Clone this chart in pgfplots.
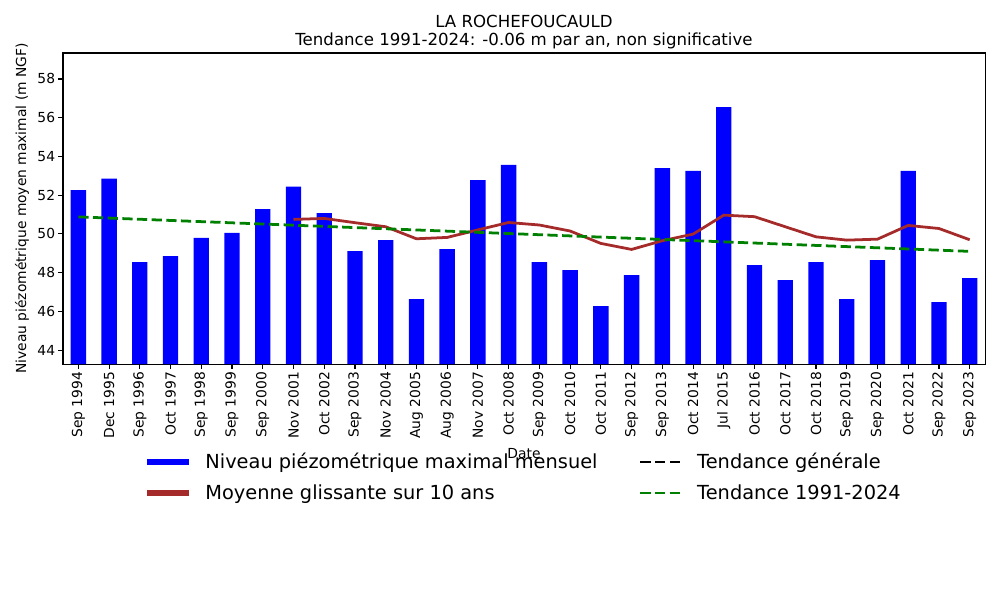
\documentclass[border=0pt]{standalone}
\usepackage{fontspec}
\setmainfont{DejaVu Sans}
\usepackage{pgfplots}
\pgfplotsset{compat=1.18}
\usetikzlibrary{calc}
\definecolor{mplgreen}{RGB}{0,128,0}
\definecolor{mplbrown}{RGB}{165,42,42}
\begin{document}
\begin{tikzpicture}
\begin{axis}[
    name=ax,
    scale only axis,
    width=666.3pt, height=224.8pt,
    xmin=-0.5, xmax=29.5,
    ymin=43.28, ymax=59.34,
    xtick={0,...,29},
    xticklabels={Sep 1994,Dec 1995,Sep 1996,Oct 1997,Sep 1998,Sep 1999,Sep 2000,Nov 2001,Oct 2002,Sep 2003,Nov 2004,Aug 2005,Aug 2006,Nov 2007,Oct 2008,Sep 2009,Oct 2010,Oct 2011,Sep 2012,Sep 2013,Oct 2014,Jul 2015,Oct 2016,Oct 2017,Oct 2018,Sep 2019,Sep 2020,Oct 2021,Sep 2022,Sep 2023},
    ytick={44,46,...,58},
    tick pos=left,
    tick align=outside,
    major tick length=3.5pt,
    every tick/.style={black, line width=0.8pt},
    axis line style={line width=0.8pt},
    /pgf/number format/assume math mode=true,
    ticklabel style={font=\fontsize{10}{12}\selectfont},
    xticklabel style={rotate=90, anchor=east, inner sep=2pt},
    yticklabel style={inner sep=2pt},
    title={LA ROCHEFOUCAULD\\Tendance 1991-2024: -0.06 m par an, non significative},
    title style={align=center, font=\fontsize{12}{12.5}\selectfont, inner sep=0pt, yshift=-3pt},
    xlabel={Date},
    xlabel style={at={(axis description cs:0.5,-0.286)}, anchor=center, font=\fontsize{10}{12}\selectfont},
    ylabel={Niveau piézométrique moyen maximal (m NGF)},
    ylabel style={at={(axis description cs:-0.0445,0.5)}, anchor=center, font=\fontsize{10}{12}\selectfont},
    legend columns=2,
    legend cell align=left,
    legend style={at={(0.5,-0.268)}, anchor=north, draw=none, fill=none,
      font=\fontsize{14}{17}\selectfont, row sep=6pt,
      /tikz/every odd column/.append style={column sep=8pt},
      /tikz/every even column/.append style={column sep=28pt}},
    legend image code/.code={\draw[#1] (0pt,0pt) -- (30pt,0pt);},
]
\addlegendimage{blue, line width=4pt}
\addlegendentry{Niveau piézométrique maximal mensuel}
\addlegendimage{black, line width=2pt, dash pattern=on 7.4pt off 3.2pt}
\addlegendentry{Tendance générale}
\addlegendimage{mplbrown, line width=4pt}
\addlegendentry{Moyenne glissante sur 10 ans}
\addlegendimage{mplgreen, line width=2pt, dash pattern=on 7.4pt off 3.2pt}
\addlegendentry{Tendance 1991-2024}

\addplot[ybar, bar width=0.5, fill=blue, draw=none, forget plot] coordinates {
(0,52.26) (1,52.85) (2,48.55) (3,48.86) (4,49.79) (5,50.06) (6,51.28) (7,52.44)
(8,51.08) (9,49.11) (10,49.68) (11,46.63) (12,49.22) (13,52.78) (14,53.56) (15,48.55)
(16,48.13) (17,46.27) (18,47.87) (19,53.40) (20,53.25) (21,56.55) (22,48.39) (23,47.62)
(24,48.55) (25,46.63) (26,48.65) (27,53.25) (28,46.48) (29,47.72)};

\addplot[mplbrown, line width=2pt, forget plot] coordinates {
(7,50.75) (8,50.80) (9,50.58) (10,50.37) (11,49.75) (12,49.82) (13,50.21) (14,50.59)
(15,50.46) (16,50.15) (17,49.51) (18,49.20) (19,49.65) (20,49.99) (21,50.97) (22,50.89)
(23,50.37) (24,49.85) (25,49.68) (26,49.73) (27,50.44) (28,50.28) (29,49.70)};

\addplot[mplgreen, line width=2pt, dash pattern=on 7.4pt off 3.2pt, forget plot] coordinates {
(0,50.88) (29,49.10)};
\end{axis}
\pgfresetboundingbox
\useasboundingbox ($(ax.south west)+(-45.5pt,-170.6pt)$) rectangle ($(ax.north east)+(10.8pt,38.3pt)$);
\end{tikzpicture}
\end{document}
